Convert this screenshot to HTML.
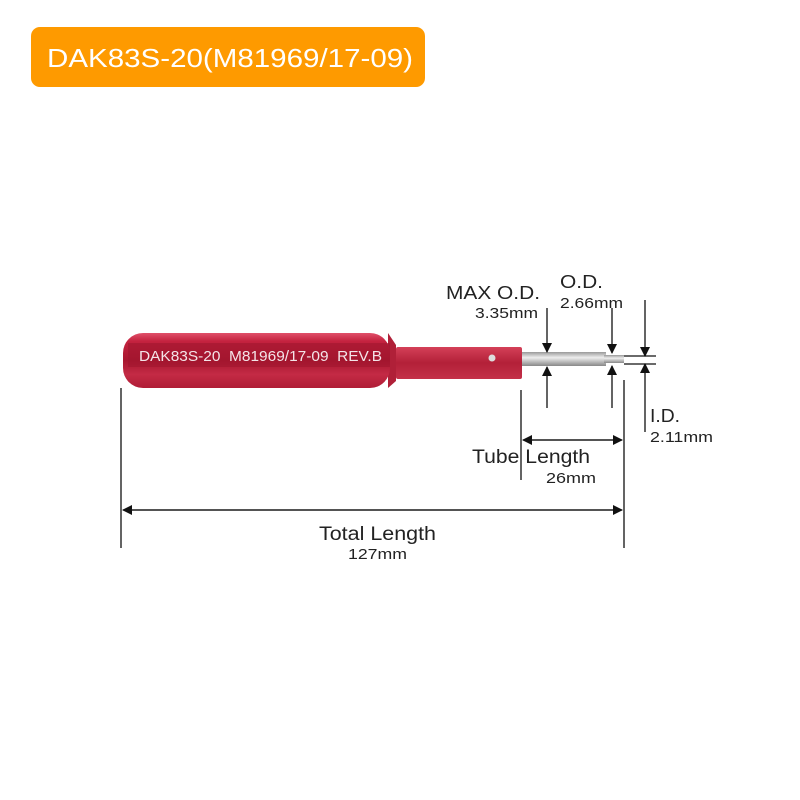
<!DOCTYPE html>
<html><head><style>
body{margin:0;background:#fff;}
svg{display:block;}
text{font-family:"Liberation Sans",sans-serif;}
</style></head><body>
<svg width="800" height="800" viewBox="0 0 800 800" xmlns="http://www.w3.org/2000/svg">
<defs>
<linearGradient id="hg" x1="0" y1="0" x2="0" y2="1">
<stop offset="0" stop-color="#e0506a"/><stop offset="0.15" stop-color="#c4223f"/>
<stop offset="0.5" stop-color="#a8172f"/><stop offset="0.75" stop-color="#c42a45"/><stop offset="1" stop-color="#b01d36"/>
</linearGradient>
<linearGradient id="ng" x1="0" y1="0" x2="0" y2="1">
<stop offset="0" stop-color="#d44058"/><stop offset="0.5" stop-color="#b32038"/><stop offset="1" stop-color="#c43048"/>
</linearGradient>
<linearGradient id="tg" x1="0" y1="0" x2="0" y2="1">
<stop offset="0" stop-color="#999"/><stop offset="0.4" stop-color="#eee"/><stop offset="1" stop-color="#888"/>
</linearGradient>
<marker id="ah" markerWidth="10" markerHeight="10" refX="9" refY="5" orient="auto" markerUnits="userSpaceOnUse">
<path d="M0,0 L10,5 L0,10 z" fill="#111"/></marker>
</defs>
<rect x="31" y="27" width="394" height="60" rx="9" fill="#fe9a00"/>
<text x="47" y="67" font-size="26" fill="#fff" textLength="366" lengthAdjust="spacingAndGlyphs">DAK83S-20(M81969/17-09)</text>

<!-- tool -->
<rect x="522" y="352" width="84" height="14" fill="url(#tg)"/>
<rect x="604" y="355" width="20" height="8" fill="url(#tg)"/>
<rect x="396" y="347" width="126" height="32" rx="2" fill="url(#ng)"/>
<path d="M388,333 L396,345 L396,381 L388,388 Z" fill="#b02038"/>
<rect x="123" y="333" width="267" height="55" rx="20" fill="url(#hg)"/>
<rect x="128" y="343" width="262" height="24" fill="#a0162f" opacity="0.6"/>
<circle cx="492" cy="358" r="3.5" fill="#ddd"/>
<text x="139" y="361" font-size="15" fill="#f4e4e8" xml:space="preserve" textLength="243" lengthAdjust="spacingAndGlyphs">DAK83S-20  M81969/17-09  REV.B</text>

<g stroke="#111" stroke-width="1.3" fill="none">
<line x1="547" y1="308" x2="547" y2="352" marker-end="url(#ah)"/>
<line x1="547" y1="408" x2="547" y2="367" marker-end="url(#ah)"/>
<line x1="612" y1="308" x2="612" y2="353" marker-end="url(#ah)"/>
<line x1="612" y1="408" x2="612" y2="366" marker-end="url(#ah)"/>
<line x1="645" y1="300" x2="645" y2="356" marker-end="url(#ah)"/>
<line x1="645" y1="432" x2="645" y2="364" marker-end="url(#ah)"/>
<line x1="624" y1="356" x2="656" y2="356"/>
<line x1="624" y1="364" x2="656" y2="364"/>
<line x1="121" y1="388" x2="121" y2="548"/>
<line x1="624" y1="380" x2="624" y2="548"/>
<line x1="521" y1="390" x2="521" y2="480"/>
<line x1="530" y1="440" x2="622" y2="440" marker-end="url(#ah)"/>
<line x1="615" y1="440" x2="523" y2="440" marker-end="url(#ah)"/>
<line x1="130" y1="510" x2="622" y2="510" marker-end="url(#ah)"/>
<line x1="615" y1="510" x2="123" y2="510" marker-end="url(#ah)"/>
</g>
<g fill="#222">
<text x="446" y="299" font-size="18" textLength="94" lengthAdjust="spacingAndGlyphs">MAX O.D.</text>
<text x="475" y="318" font-size="15" textLength="63" lengthAdjust="spacingAndGlyphs">3.35mm</text>
<text x="560" y="288" font-size="18" textLength="43" lengthAdjust="spacingAndGlyphs">O.D.</text>
<text x="560" y="308" font-size="15" textLength="63" lengthAdjust="spacingAndGlyphs">2.66mm</text>
<text x="650" y="422" font-size="18" textLength="30" lengthAdjust="spacingAndGlyphs">I.D.</text>
<text x="650" y="442" font-size="15" textLength="63" lengthAdjust="spacingAndGlyphs">2.11mm</text>
<text x="472" y="463" font-size="19" textLength="118" lengthAdjust="spacingAndGlyphs">Tube Length</text>
<text x="546" y="483" font-size="15" textLength="50" lengthAdjust="spacingAndGlyphs">26mm</text>
<text x="319" y="540" font-size="19" textLength="117" lengthAdjust="spacingAndGlyphs">Total Length</text>
<text x="348" y="559" font-size="15" textLength="59" lengthAdjust="spacingAndGlyphs">127mm</text>
</g>
</svg>
</body></html>
